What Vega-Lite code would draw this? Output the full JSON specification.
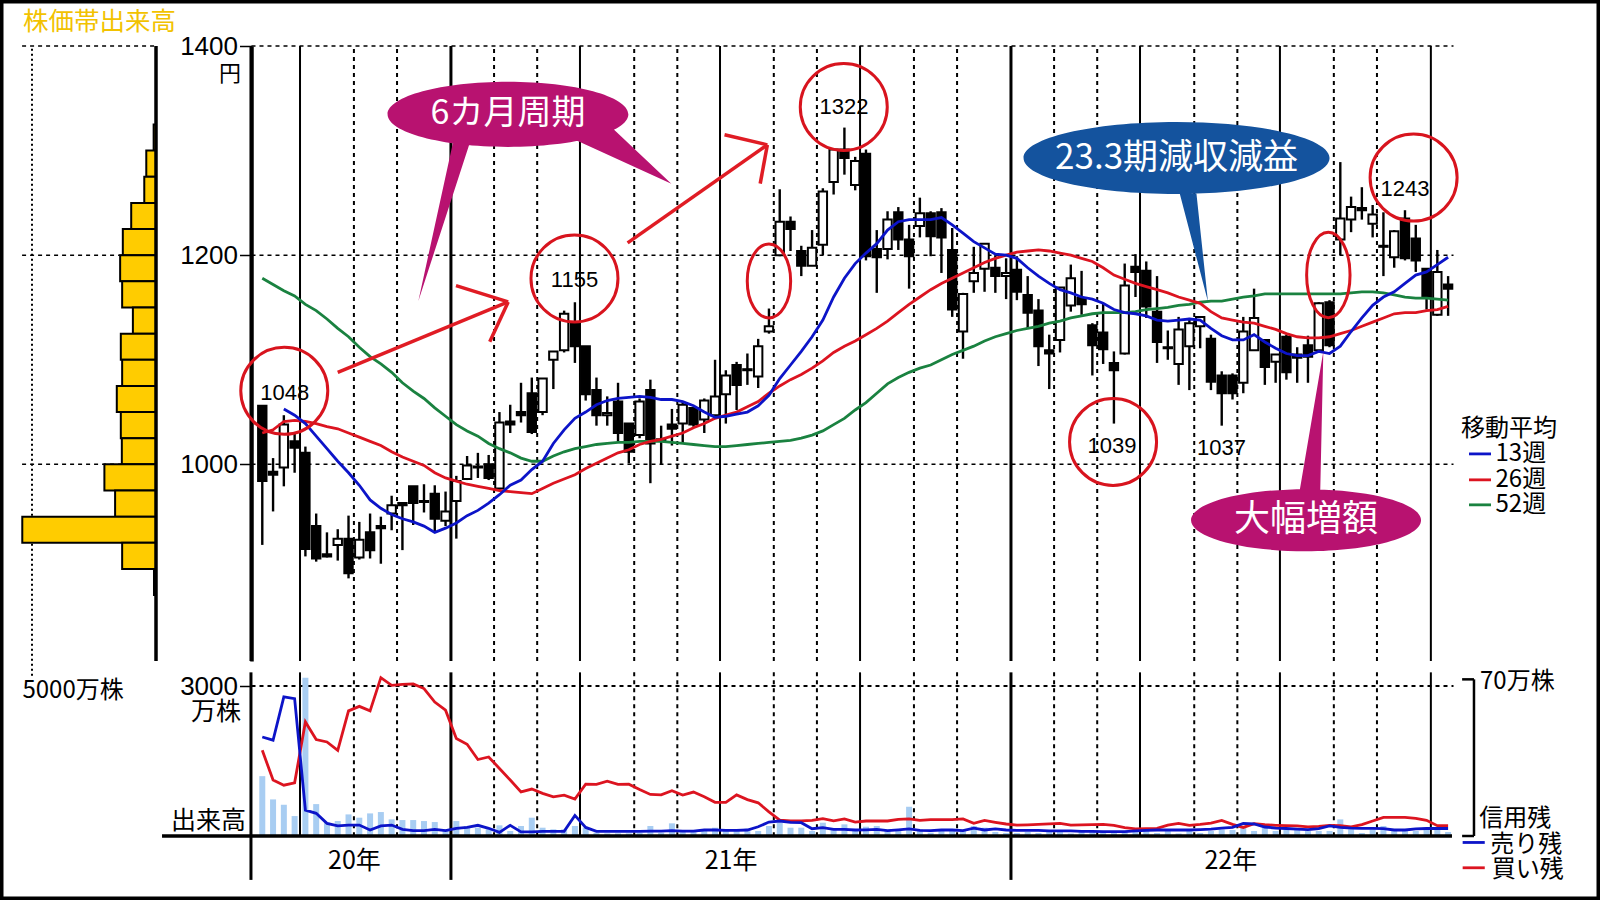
{
"$schema":"https://vega.github.io/schema/vega-lite/v6.json",
"width":1600,"height":900,"padding":0,"autosize":"none","background":"#ffffff",
"config":{"view":{"stroke":"#000000","strokeWidth":7},"axis":{"labelFont":"Liberation Sans","labelColor":"#000000","grid":false,"title":null}},
"datasets":{
"weekly":[
{"week":0,"open":1056,"high":1056,"low":923,"close":984,"ma13":null,"ma26":1030,"ma52":1178},
{"week":1,"open":993,"high":1006,"low":955,"close":990,"ma13":null,"ma26":1033,"ma52":1172},
{"week":2,"open":997,"high":1047,"low":979,"close":1038,"ma13":1053,"ma26":1041,"ma52":1166},
{"week":3,"open":1022,"high":1030,"low":992,"close":1016,"ma13":1047,"ma26":1042,"ma52":1161},
{"week":4,"open":1011,"high":1017,"low":912,"close":919,"ma13":1039,"ma26":1041,"ma52":1153},
{"week":5,"open":941,"high":953,"low":907,"close":910,"ma13":1027,"ma26":1039,"ma52":1147},
{"week":6,"open":914,"high":935,"low":911,"close":912,"ma13":1015,"ma26":1036,"ma52":1139},
{"week":7,"open":923,"high":938,"low":908,"close":929,"ma13":1003,"ma26":1034,"ma52":1130},
{"week":8,"open":929,"high":951,"low":891,"close":896,"ma13":992,"ma26":1030,"ma52":1122},
{"week":9,"open":911,"high":945,"low":909,"close":928,"ma13":980,"ma26":1026,"ma52":1112},
{"week":10,"open":935,"high":953,"low":910,"close":918,"ma13":966,"ma26":1022,"ma52":1103},
{"week":11,"open":941,"high":950,"low":905,"close":939,"ma13":958,"ma26":1018,"ma52":1096},
{"week":12,"open":953,"high":970,"low":937,"close":961,"ma13":952,"ma26":1012,"ma52":1088},
{"week":13,"open":963,"high":963,"low":918,"close":961,"ma13":948,"ma26":1007,"ma52":1078},
{"week":14,"open":979,"high":979,"low":942,"close":963,"ma13":945,"ma26":1003,"ma52":1070},
{"week":15,"open":965,"high":981,"low":954,"close":964,"ma13":941,"ma26":999,"ma52":1063},
{"week":16,"open":972,"high":980,"low":936,"close":948,"ma13":935,"ma26":992,"ma52":1054},
{"week":17,"open":946,"high":974,"low":941,"close":955,"ma13":939,"ma26":987,"ma52":1046},
{"week":18,"open":965,"high":989,"low":929,"close":984,"ma13":944,"ma26":984,"ma52":1038},
{"week":19,"open":986,"high":1008,"low":985,"close":999,"ma13":951,"ma26":981,"ma52":1032},
{"week":20,"open":998,"high":1011,"low":987,"close":997,"ma13":956,"ma26":979,"ma52":1027},
{"week":21,"open":1000,"high":1009,"low":985,"close":987,"ma13":963,"ma26":977,"ma52":1020},
{"week":22,"open":977,"high":1050,"low":975,"close":1040,"ma13":971,"ma26":975,"ma52":1015},
{"week":23,"open":1041,"high":1057,"low":1030,"close":1038,"ma13":980,"ma26":974,"ma52":1011},
{"week":24,"open":1050,"high":1078,"low":1040,"close":1047,"ma13":985,"ma26":973,"ma52":1006},
{"week":25,"open":1068,"high":1083,"low":1029,"close":1031,"ma13":995,"ma26":972,"ma52":1003},
{"week":26,"open":1050,"high":1082,"low":1047,"close":1082,"ma13":1003,"ma26":977,"ma52":1003},
{"week":27,"open":1100,"high":1108,"low":1072,"close":1108,"ma13":1020,"ma26":982,"ma52":1008},
{"week":28,"open":1109,"high":1147,"low":1107,"close":1144,"ma13":1033,"ma26":986,"ma52":1012},
{"week":29,"open":1136,"high":1155,"low":1097,"close":1113,"ma13":1044,"ma26":990,"ma52":1015},
{"week":30,"open":1113,"high":1113,"low":1061,"close":1067,"ma13":1050,"ma26":996,"ma52":1017},
{"week":31,"open":1071,"high":1083,"low":1037,"close":1047,"ma13":1057,"ma26":1001,"ma52":1019},
{"week":32,"open":1047,"high":1065,"low":1037,"close":1049,"ma13":1061,"ma26":1006,"ma52":1020},
{"week":33,"open":1060,"high":1078,"low":1022,"close":1030,"ma13":1063,"ma26":1011,"ma52":1021},
{"week":34,"open":1039,"high":1039,"low":1001,"close":1012,"ma13":1064,"ma26":1014,"ma52":1021},
{"week":35,"open":1028,"high":1063,"low":1025,"close":1060,"ma13":1065,"ma26":1019,"ma52":1022},
{"week":36,"open":1071,"high":1081,"low":982,"close":1020,"ma13":1064,"ma26":1022,"ma52":1022},
{"week":37,"open":1024,"high":1037,"low":1000,"close":1023,"ma13":1062,"ma26":1024,"ma52":1022},
{"week":38,"open":1038,"high":1053,"low":1018,"close":1034,"ma13":1062,"ma26":1027,"ma52":1021},
{"week":39,"open":1039,"high":1060,"low":1020,"close":1057,"ma13":1060,"ma26":1030,"ma52":1020},
{"week":40,"open":1054,"high":1054,"low":1036,"close":1038,"ma13":1056,"ma26":1035,"ma52":1019},
{"week":41,"open":1043,"high":1063,"low":1030,"close":1061,"ma13":1050,"ma26":1039,"ma52":1018},
{"week":42,"open":1047,"high":1100,"low":1046,"close":1065,"ma13":1045,"ma26":1044,"ma52":1017},
{"week":43,"open":1067,"high":1090,"low":1039,"close":1085,"ma13":1046,"ma26":1047,"ma52":1017},
{"week":44,"open":1095,"high":1098,"low":1052,"close":1076,"ma13":1048,"ma26":1050,"ma52":1018},
{"week":45,"open":1091,"high":1106,"low":1076,"close":1090,"ma13":1050,"ma26":1055,"ma52":1019},
{"week":46,"open":1084,"high":1120,"low":1073,"close":1113,"ma13":1056,"ma26":1060,"ma52":1020},
{"week":47,"open":1127,"high":1149,"low":1125,"close":1132,"ma13":1066,"ma26":1068,"ma52":1021},
{"week":48,"open":1200,"high":1263,"low":1199,"close":1232,"ma13":1082,"ma26":1075,"ma52":1022},
{"week":49,"open":1232,"high":1237,"low":1204,"close":1225,"ma13":1095,"ma26":1081,"ma52":1023},
{"week":50,"open":1204,"high":1209,"low":1180,"close":1190,"ma13":1108,"ma26":1086,"ma52":1025},
{"week":51,"open":1190,"high":1224,"low":1190,"close":1207,"ma13":1122,"ma26":1092,"ma52":1028},
{"week":52,"open":1210,"high":1264,"low":1200,"close":1261,"ma13":1138,"ma26":1099,"ma52":1032},
{"week":53,"open":1270,"high":1301,"low":1258,"close":1301,"ma13":1160,"ma26":1107,"ma52":1038},
{"week":54,"open":1301,"high":1322,"low":1277,"close":1293,"ma13":1178,"ma26":1113,"ma52":1044},
{"week":55,"open":1267,"high":1294,"low":1262,"close":1290,"ma13":1192,"ma26":1118,"ma52":1052},
{"week":56,"open":1297,"high":1301,"low":1195,"close":1199,"ma13":1202,"ma26":1124,"ma52":1059},
{"week":57,"open":1206,"high":1224,"low":1164,"close":1198,"ma13":1211,"ma26":1130,"ma52":1068},
{"week":58,"open":1206,"high":1242,"low":1196,"close":1234,"ma13":1224,"ma26":1137,"ma52":1077},
{"week":59,"open":1241,"high":1246,"low":1205,"close":1215,"ma13":1232,"ma26":1145,"ma52":1083},
{"week":60,"open":1215,"high":1229,"low":1168,"close":1199,"ma13":1234,"ma26":1153,"ma52":1088},
{"week":61,"open":1228,"high":1255,"low":1217,"close":1240,"ma13":1234,"ma26":1160,"ma52":1092},
{"week":62,"open":1240,"high":1242,"low":1199,"close":1218,"ma13":1234,"ma26":1167,"ma52":1095},
{"week":63,"open":1241,"high":1245,"low":1183,"close":1217,"ma13":1236,"ma26":1173,"ma52":1100},
{"week":64,"open":1205,"high":1226,"low":1141,"close":1148,"ma13":1229,"ma26":1178,"ma52":1105},
{"week":65,"open":1127,"high":1164,"low":1101,"close":1163,"ma13":1221,"ma26":1183,"ma52":1109},
{"week":66,"open":1175,"high":1208,"low":1164,"close":1183,"ma13":1213,"ma26":1188,"ma52":1113},
{"week":67,"open":1187,"high":1211,"low":1165,"close":1211,"ma13":1207,"ma26":1193,"ma52":1118},
{"week":68,"open":1188,"high":1200,"low":1164,"close":1180,"ma13":1201,"ma26":1197,"ma52":1122},
{"week":69,"open":1180,"high":1197,"low":1158,"close":1183,"ma13":1200,"ma26":1200,"ma52":1125},
{"week":70,"open":1186,"high":1199,"low":1157,"close":1165,"ma13":1197,"ma26":1203,"ma52":1128},
{"week":71,"open":1162,"high":1180,"low":1130,"close":1145,"ma13":1188,"ma26":1204,"ma52":1130},
{"week":72,"open":1147,"high":1158,"low":1094,"close":1113,"ma13":1180,"ma26":1205,"ma52":1132},
{"week":73,"open":1109,"high":1124,"low":1072,"close":1106,"ma13":1173,"ma26":1204,"ma52":1135},
{"week":74,"open":1119,"high":1169,"low":1107,"close":1169,"ma13":1167,"ma26":1202,"ma52":1137},
{"week":75,"open":1152,"high":1191,"low":1146,"close":1178,"ma13":1164,"ma26":1200,"ma52":1140},
{"week":76,"open":1159,"high":1185,"low":1143,"close":1153,"ma13":1160,"ma26":1197,"ma52":1142},
{"week":77,"open":1133,"high":1135,"low":1085,"close":1114,"ma13":1158,"ma26":1194,"ma52":1144},
{"week":78,"open":1126,"high":1154,"low":1096,"close":1110,"ma13":1154,"ma26":1188,"ma52":1145},
{"week":79,"open":1097,"high":1108,"low":1039,"close":1090,"ma13":1148,"ma26":1181,"ma52":1145},
{"week":80,"open":1106,"high":1192,"low":1105,"close":1171,"ma13":1145,"ma26":1177,"ma52":1145},
{"week":81,"open":1189,"high":1201,"low":1160,"close":1184,"ma13":1144,"ma26":1173,"ma52":1146},
{"week":82,"open":1185,"high":1194,"low":1140,"close":1151,"ma13":1142,"ma26":1170,"ma52":1148},
{"week":83,"open":1146,"high":1180,"low":1097,"close":1117,"ma13":1138,"ma26":1167,"ma52":1149},
{"week":84,"open":1112,"high":1128,"low":1100,"close":1111,"ma13":1137,"ma26":1164,"ma52":1150},
{"week":85,"open":1096,"high":1141,"low":1076,"close":1129,"ma13":1138,"ma26":1160,"ma52":1152},
{"week":86,"open":1113,"high":1140,"low":1071,"close":1135,"ma13":1139,"ma26":1157,"ma52":1153},
{"week":87,"open":1132,"high":1141,"low":1111,"close":1141,"ma13":1138,"ma26":1154,"ma52":1155},
{"week":88,"open":1120,"high":1124,"low":1071,"close":1079,"ma13":1130,"ma26":1146,"ma52":1156},
{"week":89,"open":1085,"high":1089,"low":1037,"close":1068,"ma13":1123,"ma26":1140,"ma52":1156},
{"week":90,"open":1085,"high":1087,"low":1062,"close":1068,"ma13":1119,"ma26":1138,"ma52":1158},
{"week":91,"open":1078,"high":1141,"low":1068,"close":1127,"ma13":1119,"ma26":1136,"ma52":1160},
{"week":92,"open":1109,"high":1168,"low":1109,"close":1140,"ma13":1124,"ma26":1135,"ma52":1161},
{"week":93,"open":1119,"high":1119,"low":1076,"close":1093,"ma13":1117,"ma26":1132,"ma52":1163},
{"week":94,"open":1098,"high":1105,"low":1078,"close":1105,"ma13":1111,"ma26":1129,"ma52":1163},
{"week":95,"open":1122,"high":1124,"low":1081,"close":1088,"ma13":1106,"ma26":1125,"ma52":1163},
{"week":96,"open":1105,"high":1112,"low":1078,"close":1102,"ma13":1104,"ma26":1122,"ma52":1163},
{"week":97,"open":1114,"high":1123,"low":1078,"close":1103,"ma13":1104,"ma26":1121,"ma52":1163},
{"week":98,"open":1109,"high":1155,"low":1108,"close":1154,"ma13":1108,"ma26":1121,"ma52":1163},
{"week":99,"open":1155,"high":1157,"low":1112,"close":1114,"ma13":1106,"ma26":1122,"ma52":1163},
{"week":100,"open":1215,"high":1289,"low":1200,"close":1235,"ma13":1113,"ma26":1125,"ma52":1163},
{"week":101,"open":1234,"high":1256,"low":1222,"close":1246,"ma13":1127,"ma26":1128,"ma52":1164},
{"week":102,"open":1245,"high":1265,"low":1234,"close":1243,"ma13":1140,"ma26":1132,"ma52":1165},
{"week":103,"open":1230,"high":1248,"low":1217,"close":1239,"ma13":1152,"ma26":1136,"ma52":1165},
{"week":104,"open":1209,"high":1241,"low":1180,"close":1208,"ma13":1160,"ma26":1140,"ma52":1164},
{"week":105,"open":1198,"high":1224,"low":1188,"close":1223,"ma13":1165,"ma26":1144,"ma52":1162},
{"week":106,"open":1235,"high":1243,"low":1195,"close":1197,"ma13":1173,"ma26":1145,"ma52":1160},
{"week":107,"open":1216,"high":1229,"low":1184,"close":1195,"ma13":1181,"ma26":1145,"ma52":1159},
{"week":108,"open":1187,"high":1187,"low":1148,"close":1160,"ma13":1184,"ma26":1147,"ma52":1159},
{"week":109,"open":1143,"high":1205,"low":1142,"close":1184,"ma13":1191,"ma26":1148,"ma52":1158},
{"week":110,"open":1172,"high":1180,"low":1142,"close":1168,"ma13":1198,"ma26":1151,"ma52":1157}
],
"turnover":[
{"week":0,"volume":1197,"sell":46.2,"buy":40},{"week":1,"volume":732,"sell":44.7,"buy":26.1},{"week":2,"volume":625,"sell":64.9,"buy":23.7},{"week":3,"volume":399,"sell":64.1,"buy":24.8},{"week":4,"volume":3166,"sell":12.1,"buy":53.2},{"week":5,"volume":638,"sell":10.6,"buy":45},{"week":6,"volume":266,"sell":5.9,"buy":43.9},{"week":7,"volume":300,"sell":4.7,"buy":40},{"week":8,"volume":432,"sell":5.1,"buy":58.4},{"week":9,"volume":366,"sell":5.1,"buy":60.5},
{"week":10,"volume":452,"sell":2.8,"buy":58.4},{"week":11,"volume":479,"sell":4.7,"buy":73.9},{"week":12,"volume":333,"sell":5.1,"buy":70.3},{"week":13,"volume":319,"sell":3.1,"buy":70.8},{"week":14,"volume":319,"sell":2.5,"buy":71},{"week":15,"volume":299,"sell":2.5,"buy":68.8},{"week":16,"volume":279,"sell":3.1,"buy":62.5},{"week":17,"volume":133,"sell":2.5,"buy":58.7},{"week":18,"volume":299,"sell":3.6,"buy":45.5},{"week":19,"volume":200,"sell":4,"buy":42.8},
{"week":20,"volume":166,"sell":5,"buy":35.7},{"week":21,"volume":133,"sell":3.6,"buy":36.9},{"week":22,"volume":213,"sell":1.7,"buy":31.5},{"week":23,"volume":100,"sell":5,"buy":26.1},{"week":24,"volume":200,"sell":1.9,"buy":20.6},{"week":25,"volume":366,"sell":1.9,"buy":21.9},{"week":26,"volume":166,"sell":2.2,"buy":19.9},{"week":27,"volume":133,"sell":2.2,"buy":18.3},{"week":28,"volume":133,"sell":2.2,"buy":19.1},{"week":29,"volume":200,"sell":9.6,"buy":17.2},
{"week":30,"volume":166,"sell":4,"buy":24.2},{"week":31,"volume":66,"sell":2.2,"buy":24.1},{"week":32,"volume":53,"sell":2.2,"buy":25.6},{"week":33,"volume":53,"sell":2.2,"buy":24.1},{"week":34,"volume":53,"sell":2.2,"buy":24.2},{"week":35,"volume":60,"sell":2.2,"buy":21.7},{"week":36,"volume":200,"sell":2.3,"buy":19.4},{"week":37,"volume":66,"sell":2.3,"buy":19.2},{"week":38,"volume":253,"sell":2.5,"buy":21.1},{"week":39,"volume":100,"sell":2.3,"buy":19.1},
{"week":40,"volume":80,"sell":2.3,"buy":20.5},{"week":41,"volume":133,"sell":2.8,"buy":18.3},{"week":42,"volume":166,"sell":2.8,"buy":15.7},{"week":43,"volume":120,"sell":2.6,"buy":15.7},{"week":44,"volume":133,"sell":2.6,"buy":19.2},{"week":45,"volume":146,"sell":2.8,"buy":17},{"week":46,"volume":100,"sell":4.3,"buy":15.5},{"week":47,"volume":200,"sell":6.5,"buy":11.3},{"week":48,"volume":266,"sell":7,"buy":7.4},{"week":49,"volume":166,"sell":6.4,"buy":7.1},
{"week":50,"volume":166,"sell":6.2,"buy":7.1},{"week":51,"volume":100,"sell":3.4,"buy":7.3},{"week":52,"volume":266,"sell":3.9,"buy":8.1},{"week":53,"volume":133,"sell":3.1,"buy":7.1},{"week":54,"volume":233,"sell":3.1,"buy":8},{"week":55,"volume":100,"sell":2.8,"buy":6.5},{"week":56,"volume":186,"sell":2.9,"buy":7},{"week":57,"volume":200,"sell":3.1,"buy":7.1},{"week":58,"volume":100,"sell":2.5,"buy":7},{"week":59,"volume":100,"sell":2.9,"buy":7.8},
{"week":60,"volume":585,"sell":3.3,"buy":8},{"week":61,"volume":133,"sell":2.6,"buy":7.3},{"week":62,"volume":66,"sell":2.5,"buy":7.6},{"week":63,"volume":100,"sell":2.8,"buy":7.6},{"week":64,"volume":133,"sell":2.8,"buy":7.6},{"week":65,"volume":100,"sell":2.5,"buy":8},{"week":66,"volume":200,"sell":3.7,"buy":5.9},{"week":67,"volume":166,"sell":2.8,"buy":7.3},{"week":68,"volume":80,"sell":3.3,"buy":6.4},{"week":69,"volume":60,"sell":2.8,"buy":5.6},
{"week":70,"volume":60,"sell":2.6,"buy":5.1},{"week":71,"volume":80,"sell":2.6,"buy":5.2},{"week":72,"volume":60,"sell":2.6,"buy":5.4},{"week":73,"volume":100,"sell":2.4,"buy":5.7},{"week":74,"volume":100,"sell":2.4,"buy":5.9},{"week":75,"volume":50,"sell":2.4,"buy":5.1},{"week":76,"volume":100,"sell":2.2,"buy":5.2},{"week":77,"volume":100,"sell":2.2,"buy":5.3},{"week":78,"volume":80,"sell":2,"buy":5.4},{"week":79,"volume":60,"sell":2,"buy":5},
{"week":80,"volume":100,"sell":2,"buy":3.9},{"week":81,"volume":130,"sell":2.4,"buy":3.3},{"week":82,"volume":100,"sell":2.6,"buy":3.4},{"week":83,"volume":60,"sell":2.8,"buy":3.6},{"week":84,"volume":100,"sell":2.8,"buy":5.1},{"week":85,"volume":50,"sell":2.8,"buy":5.9},{"week":86,"volume":100,"sell":2.8,"buy":5},{"week":87,"volume":60,"sell":3,"buy":5.4},{"week":88,"volume":100,"sell":3.2,"buy":6},{"week":89,"volume":130,"sell":3.7,"buy":7.3},
{"week":90,"volume":120,"sell":4,"buy":5.4},{"week":91,"volume":166,"sell":5.9,"buy":4},{"week":92,"volume":100,"sell":5.6,"buy":5.8},{"week":93,"volume":166,"sell":4.2,"buy":5.3},{"week":94,"volume":100,"sell":3.7,"buy":5},{"week":95,"volume":133,"sell":3.5,"buy":4.8},{"week":96,"volume":133,"sell":3.2,"buy":4.7},{"week":97,"volume":100,"sell":3,"buy":4.3},{"week":98,"volume":100,"sell":3.4,"buy":4.5},{"week":99,"volume":100,"sell":4.7,"buy":5},
{"week":100,"volume":332,"sell":4,"buy":4.8},{"week":101,"volume":133,"sell":3.7,"buy":4.3},{"week":102,"volume":60,"sell":3.6,"buy":5.3},{"week":103,"volume":133,"sell":3.6,"buy":7},{"week":104,"volume":200,"sell":3.4,"buy":8.7},{"week":105,"volume":130,"sell":2.8,"buy":8.7},{"week":106,"volume":130,"sell":2.8,"buy":8.7},{"week":107,"volume":100,"sell":3.3,"buy":8.2},{"week":108,"volume":130,"sell":3.5,"buy":7.3},{"week":109,"volume":130,"sell":3.5,"buy":4.8},{"week":110,"volume":80,"sell":3.5,"buy":4.8}
],
"priceBands":[
{"lo":1300,"hi":1325,"vol":95},{"lo":1275,"hi":1300,"vol":392},{"lo":1250,"hi":1275,"vol":473},{"lo":1225,"hi":1250,"vol":1000},{"lo":1200,"hi":1225,"vol":1338},{"lo":1175,"hi":1200,"vol":1446},{"lo":1150,"hi":1175,"vol":1365},{"lo":1125,"hi":1150,"vol":932},{"lo":1100,"hi":1125,"vol":1419},{"lo":1075,"hi":1100,"vol":1365},{"lo":1050,"hi":1075,"vol":1581},{"lo":1025,"hi":1050,"vol":1419},{"lo":1000,"hi":1025,"vol":1378},{"lo":975,"hi":1000,"vol":2081},{"lo":950,"hi":975,"vol":1649},{"lo":925,"hi":950,"vol":5392},{"lo":900,"hi":925,"vol":1365},{"lo":875,"hi":900,"vol":81}
],
"thickLines":[{"week":-1.05},{"week":17.5},{"week":69.45}],
"thinLines":[{"week":3.5},{"week":29.47},{"week":42.46},{"week":55.45},{"week":81.42},{"week":94.4},{"week":108.4}],
"dashLines":[{"week":8.5},{"week":12.5},{"week":21.5},{"week":25.5},{"week":34.5},{"week":38.5},{"week":47.45},{"week":51.45},{"week":60.45},{"week":64.45},{"week":73.45},{"week":77.45},{"week":86.45},{"week":90.45},{"week":99.4},{"week":103.4}],
"priceLevels":[{"price":1000},{"price":1200},{"price":1400}]
},
"resolve":{"scale":{"x":"independent","y":"independent"},"axis":{"x":"independent","y":"independent"}},
"layer":[
{"layer":[
{"data":{"name":"priceLevels"},"mark":{"type":"rule","stroke":"#000000","strokeWidth":1.5,"strokeDash":[4,4]},
 "encoding":{"x":{"datum":5400,"type":"quantitative","scale":{"domain":[0,5000],"range":[156,32]},"axis":null},"x2":{"datum":0},"y":{"field":"price","type":"quantitative","scale":{"domain":[812,1400],"range":[661,46]},"axis":null}}},
{"data":{"values":[{"level":5000}]},"mark":{"type":"rule","stroke":"#000000","strokeWidth":2,"strokeDash":[2,3]},
 "encoding":{"x":{"field":"level","type":"quantitative","scale":{"domain":[0,5000],"range":[156,32]},"axis":null},"y":{"datum":798,"type":"quantitative","scale":{"domain":[812,1400],"range":[661,46]},"axis":null},"y2":{"datum":1400}}},
{"data":{"name":"priceBands"},"mark":{"type":"rect","fill":"#ffcc00","stroke":"#000000","strokeWidth":2},
 "encoding":{"x":{"field":"vol","type":"quantitative","scale":{"domain":[0,5000],"range":[156,32]},"axis":null},"x2":{"datum":0},"y":{"field":"hi","type":"quantitative","scale":{"domain":[812,1400],"range":[661,46]},"axis":null},"y2":{"field":"lo"}}},
{"data":{"values":[{"level":0}]},"mark":{"type":"rule","stroke":"#000000","strokeWidth":3.5},
 "encoding":{"x":{"field":"level","type":"quantitative","scale":{"domain":[0,5000],"range":[156,32]},"axis":null},"y":{"datum":812,"type":"quantitative","scale":{"domain":[812,1400],"range":[661,46]},"axis":null},"y2":{"datum":1400}}}
]},
{"layer":[
{"data":{"name":"priceLevels"},"mark":{"type":"rule","stroke":"#000000","strokeWidth":1.5,"strokeDash":[4,4]},
 "encoding":{"x":{"datum":-1,"type":"quantitative","scale":{"domain":[-24.33,124.09],"range":[0,1600],"padding":0},"axis":null},"x2":{"datum":110.5},"y":{"field":"price","type":"quantitative","scale":{"domain":[812,1400],"range":[661,46]},"axis":{"orient":"left","offset":-251.5,"values":[1000,1200,1400],"format":"d","domainColor":"#000000","domainWidth":3.5,"tickColor":"#000000","tickWidth":1.5,"tickSize":12,"labelFontSize":26,"labelPadding":2,"labelBaseline":"middle","labelOverlap":false,"labelFlush":false}}}},
{"data":{"name":"dashLines"},"mark":{"type":"rule","stroke":"#000000","strokeWidth":2,"strokeDash":[4,4]},
 "encoding":{"x":{"field":"week","type":"quantitative","scale":{"domain":[-24.33,124.09],"range":[0,1600],"padding":0},"axis":null},"y":{"datum":812,"type":"quantitative","scale":{"domain":[812,1400],"range":[661,46]}},"y2":{"datum":1400}}},
{"data":{"name":"thinLines"},"mark":{"type":"rule","stroke":"#000000","strokeWidth":2},
 "encoding":{"x":{"field":"week","type":"quantitative","scale":{"domain":[-24.33,124.09],"range":[0,1600],"padding":0},"axis":null},"y":{"datum":812,"type":"quantitative","scale":{"domain":[812,1400],"range":[661,46]}},"y2":{"datum":1400}}},
{"data":{"name":"thickLines"},"mark":{"type":"rule","stroke":"#000000","strokeWidth":3},
 "encoding":{"x":{"field":"week","type":"quantitative","scale":{"domain":[-24.33,124.09],"range":[0,1600],"padding":0},"axis":null},"y":{"datum":812,"type":"quantitative","scale":{"domain":[812,1400],"range":[661,46]}},"y2":{"datum":1400}}},
{"data":{"name":"weekly"},"mark":{"type":"rule","stroke":"#000000","strokeWidth":2.4},
 "encoding":{"x":{"field":"week","type":"quantitative","scale":{"domain":[-24.33,124.09],"range":[0,1600],"padding":0},"axis":null},"y":{"field":"low","type":"quantitative","scale":{"domain":[812,1400],"range":[661,46]}},"y2":{"field":"high"}}},
{"data":{"name":"weekly"},"mark":{"type":"bar","size":8.4,"stroke":"#000000","strokeWidth":2},
 "encoding":{"x":{"field":"week","type":"quantitative","scale":{"domain":[-24.33,124.09],"range":[0,1600],"padding":0},"axis":null},"y":{"field":"open","type":"quantitative","scale":{"domain":[812,1400],"range":[661,46]}},"y2":{"field":"close"},"fill":{"condition":{"test":"datum.close>=datum.open","value":"#ffffff"},"value":"#000000"}}},
{"data":{"name":"weekly"},"mark":{"type":"line","stroke":"#1a8240","strokeWidth":2.8},
 "encoding":{"x":{"field":"week","type":"quantitative","scale":{"domain":[-24.33,124.09],"range":[0,1600],"padding":0},"axis":null},"y":{"field":"ma52","type":"quantitative","scale":{"domain":[812,1400],"range":[661,46]}}}},
{"data":{"name":"weekly"},"mark":{"type":"line","stroke":"#dc1420","strokeWidth":2.8},
 "encoding":{"x":{"field":"week","type":"quantitative","scale":{"domain":[-24.33,124.09],"range":[0,1600],"padding":0},"axis":null},"y":{"field":"ma26","type":"quantitative","scale":{"domain":[812,1400],"range":[661,46]}}}},
{"data":{"name":"weekly"},"mark":{"type":"line","stroke":"#0c14c8","strokeWidth":2.8},
 "encoding":{"x":{"field":"week","type":"quantitative","scale":{"domain":[-24.33,124.09],"range":[0,1600],"padding":0},"axis":null},"y":{"field":"ma13","type":"quantitative","scale":{"domain":[812,1400],"range":[661,46]}}}},
{"data":{"values":[{"week":2.04,"price":1070.3},{"week":28.96,"price":1177.7},{"week":53.94,"price":1341.7},{"week":78.92,"price":1021.5},{"week":106.8,"price":1274.2}]},"mark":{"type":"point","shape":"circle","size":7569,"stroke":"#d8141e","strokeWidth":3,"fill":null,"opacity":1},
 "encoding":{"x":{"field":"week","type":"quantitative","scale":{"domain":[-24.33,124.09],"range":[0,1600],"padding":0},"axis":null},"y":{"field":"price","type":"quantitative","scale":{"domain":[812,1400],"range":[661,46]}}}},
{"data":{"values":[{"week":47.0,"price":1175.4}]},"mark":{"type":"point","shape":"M-21.7 0A21.7 37 0 1 1 21.7 0A21.7 37 0 1 1 -21.7 0Z","size":4,"stroke":"#d8141e","strokeWidth":3,"fill":null,"opacity":1},
 "encoding":{"x":{"field":"week","type":"quantitative","scale":{"domain":[-24.33,124.09],"range":[0,1600],"padding":0},"axis":null},"y":{"field":"price","type":"quantitative","scale":{"domain":[812,1400],"range":[661,46]}}}},
{"data":{"values":[{"week":98.89,"price":1181.1}]},"mark":{"type":"point","shape":"M-21.7 0A21.7 42.7 0 1 1 21.7 0A21.7 42.7 0 1 1 -21.7 0Z","size":4,"stroke":"#d8141e","strokeWidth":3,"fill":null,"opacity":1},
 "encoding":{"x":{"field":"week","type":"quantitative","scale":{"domain":[-24.33,124.09],"range":[0,1600],"padding":0},"axis":null},"y":{"field":"price","type":"quantitative","scale":{"domain":[812,1400],"range":[661,46]}}}},
{"data":{"values":[{"from":7.0,"fromPrice":1088,"to":22.81,"toPrice":1155.3},{"from":17.97,"fromPrice":1170.9,"to":22.81,"toPrice":1155.3},{"from":21.1,"fromPrice":1117.3,"to":22.81,"toPrice":1155.3},{"from":33.89,"fromPrice":1211.8,"to":46.85,"toPrice":1305.5},{"from":42.88,"fromPrice":1315.2,"to":46.85,"toPrice":1305.5},{"from":46.19,"fromPrice":1268.4,"to":46.85,"toPrice":1305.5}]},"mark":{"type":"rule","stroke":"#e01c24","strokeWidth":3.5},
 "encoding":{"x":{"field":"from","type":"quantitative","scale":{"domain":[-24.33,124.09],"range":[0,1600],"padding":0},"axis":null},"x2":{"field":"to"},"y":{"field":"fromPrice","type":"quantitative","scale":{"domain":[812,1400],"range":[661,46]}},"y2":{"field":"toPrice"}}},
{"data":{"values":[{"week":22.79,"price":1334.7}]},"mark":{"type":"point","filled":true,"opacity":1,"fill":"#b81270","strokeWidth":0,"size":4,"shape":"M-120.4 0A120.4 32.6 0 1 1 120.4 0A120.4 32.6 0 1 1 -120.4 0ZM-36.6 23.7L-89.6 186.7L-54 23.7ZM95 5L163.4 69.4L55 20Z"},
 "encoding":{"x":{"field":"week","type":"quantitative","scale":{"domain":[-24.33,124.09],"range":[0,1600],"padding":0},"axis":null},"y":{"field":"price","type":"quantitative","scale":{"domain":[812,1400],"range":[661,46]}}}},
{"data":{"values":[{"week":84.81,"price":1293}]},"mark":{"type":"point","filled":true,"opacity":1,"fill":"#14539e","strokeWidth":0,"size":4,"shape":"M-153 0A153 36 0 1 1 153 0A153 36 0 1 1 -153 0ZM19.4 31L31.4 143.7L2 31Z"},
 "encoding":{"x":{"field":"week","type":"quantitative","scale":{"domain":[-24.33,124.09],"range":[0,1600],"padding":0},"axis":null},"y":{"field":"price","type":"quantitative","scale":{"domain":[812,1400],"range":[661,46]}}}},
{"data":{"values":[{"week":96.82,"price":946.6}]},"mark":{"type":"point","filled":true,"opacity":1,"fill":"#b81270","strokeWidth":0,"size":4,"shape":"M-115 0A115 31 0 1 1 115 0A115 31 0 1 1 -115 0ZM-8 -20L17.3 -168.7L14 -20Z"},
 "encoding":{"x":{"field":"week","type":"quantitative","scale":{"domain":[-24.33,124.09],"range":[0,1600],"padding":0},"axis":null},"y":{"field":"price","type":"quantitative","scale":{"domain":[812,1400],"range":[661,46]}}}},
{"data":{"values":[{"week":22.79,"price":1334.7,"label":"6カ月周期"}]},"mark":{"type":"text","font":"Noto Sans CJK JP","fontSize":34,"fill":"#ffffff","align":"center","baseline":"middle"},
 "encoding":{"x":{"field":"week","type":"quantitative","scale":{"domain":[-24.33,124.09],"range":[0,1600],"padding":0},"axis":null},"y":{"field":"price","type":"quantitative","scale":{"domain":[812,1400],"range":[661,46]}},"text":{"field":"label"}}},
{"data":{"values":[{"week":84.81,"price":1293,"label":"23.3期減収減益"}]},"mark":{"type":"text","font":"Noto Sans CJK JP","fontSize":35,"fill":"#ffffff","align":"center","baseline":"middle"},
 "encoding":{"x":{"field":"week","type":"quantitative","scale":{"domain":[-24.33,124.09],"range":[0,1600],"padding":0},"axis":null},"y":{"field":"price","type":"quantitative","scale":{"domain":[812,1400],"range":[661,46]}},"text":{"field":"label"}}},
{"data":{"values":[{"week":96.82,"price":946.6,"label":"大幅増額"}]},"mark":{"type":"text","font":"Noto Sans CJK JP","fontSize":36,"fill":"#ffffff","align":"center","baseline":"middle"},
 "encoding":{"x":{"field":"week","type":"quantitative","scale":{"domain":[-24.33,124.09],"range":[0,1600],"padding":0},"axis":null},"y":{"field":"price","type":"quantitative","scale":{"domain":[812,1400],"range":[661,46]}},"text":{"field":"label"}}},
{"data":{"values":[{"week":2.08,"price":1068.3,"label":"1048"},{"week":28.96,"price":1175.8,"label":"1155"},{"week":53.96,"price":1341.7,"label":"1322"},{"week":106.0,"price":1263.3,"label":"1243"},{"week":78.82,"price":1017.7,"label":"1039"},{"week":88.98,"price":1015.8,"label":"1037"}]},"mark":{"type":"text","font":"Liberation Sans","fontSize":22,"fill":"#000000","align":"center","baseline":"middle"},
 "encoding":{"x":{"field":"week","type":"quantitative","scale":{"domain":[-24.33,124.09],"range":[0,1600],"padding":0},"axis":null},"y":{"field":"price","type":"quantitative","scale":{"domain":[812,1400],"range":[661,46]}},"text":{"field":"label"}}},
{"data":{"values":[{"week":-22.25,"price":783.5,"label":"5000万株"},{"week":111.2,"price":1033.4,"label":"移動平均"},{"week":114.4,"price":1010,"label":"13週"},{"week":114.4,"price":985.2,"label":"26週"},{"week":114.4,"price":961.3,"label":"52週"},{"week":112.96,"price":792.1,"label":"70万株"},{"week":112.9,"price":661.2,"label":"信用残"},{"week":113.9,"price":636.3,"label":"売り残"},{"week":114.04,"price":612.4,"label":"買い残"}]},"mark":{"type":"text","font":"Noto Sans CJK JP","fontSize":24,"fill":"#000000","align":"left","baseline":"middle"},
 "encoding":{"x":{"field":"week","type":"quantitative","scale":{"domain":[-24.33,124.09],"range":[0,1600],"padding":0},"axis":null},"y":{"field":"price","type":"quantitative","scale":{"domain":[812,1400],"range":[661,46]}},"text":{"field":"label"}}},
{"data":{"values":[{"week":-1.98,"price":763.4,"label":"万株"},{"week":-1.5,"price":659.3,"label":"出来高"}]},"mark":{"type":"text","font":"Noto Sans CJK JP","fontSize":25,"fill":"#000000","align":"right","baseline":"middle"},
 "encoding":{"x":{"field":"week","type":"quantitative","scale":{"domain":[-24.33,124.09],"range":[0,1600],"padding":0},"axis":null},"y":{"field":"price","type":"quantitative","scale":{"domain":[812,1400],"range":[661,46]}},"text":{"field":"label"}}},
{"data":{"values":[{"week":-1.98,"price":1372.8,"label":"円"}]},"mark":{"type":"text","font":"Noto Sans CJK JP","fontSize":22,"fill":"#000000","align":"right","baseline":"middle"},
 "encoding":{"x":{"field":"week","type":"quantitative","scale":{"domain":[-24.33,124.09],"range":[0,1600],"padding":0},"axis":null},"y":{"field":"price","type":"quantitative","scale":{"domain":[812,1400],"range":[661,46]}},"text":{"field":"label"}}},
{"data":{"values":[{"week":-22.2,"price":1422.9,"label":"株価帯出来高"}]},"mark":{"type":"text","font":"Noto Sans CJK JP","fontSize":25.5,"fill":"#f2c200","align":"left","baseline":"middle"},
 "encoding":{"x":{"field":"week","type":"quantitative","scale":{"domain":[-24.33,124.09],"range":[0,1600],"padding":0},"axis":null},"y":{"field":"price","type":"quantitative","scale":{"domain":[812,1400],"range":[661,46]}},"text":{"field":"label"}}},
{"data":{"values":[{"from":111.94,"to":113.98,"price":1010,"series":"13週"},{"from":111.94,"to":113.98,"price":985.2,"series":"26週"},{"from":111.94,"to":113.98,"price":961.3,"series":"52週"},{"from":111.35,"to":113.4,"price":638.5,"series":"売り残"},{"from":111.35,"to":113.4,"price":614.3,"series":"買い残"}]},"mark":{"type":"rule","strokeWidth":2.8},
 "encoding":{"x":{"field":"from","type":"quantitative","scale":{"domain":[-24.33,124.09],"range":[0,1600],"padding":0},"axis":null},"x2":{"field":"to"},"y":{"field":"price","type":"quantitative","scale":{"domain":[812,1400],"range":[661,46]}},"color":{"field":"series","type":"nominal","legend":null,"scale":{"domain":["13週","26週","52週","売り残","買い残"],"range":["#0c14c8","#dc1420","#1a8240","#0c14c8","#dc1420"]}}}}
]},
{"layer":[
{"data":{"values":[{"level":3000}]},"mark":{"type":"rule","stroke":"#000000","strokeWidth":2,"strokeDash":[4,4]},
 "encoding":{"x":{"datum":-1,"type":"quantitative","scale":{"domain":[-24.33,124.09],"range":[0,1600],"padding":0},"axis":{"orient":"bottom","offset":-64,"values":[8.5,43.44,89.8],"labelExpr":"datum.value<20?'20年':datum.value<60?'21年':'22年'","domain":false,"ticks":false,"labelFont":"Noto Sans CJK JP","labelFontSize":25,"labelPadding":12,"labelOverlap":false,"labelFlush":false}},"x2":{"datum":110.5},"y":{"field":"level","type":"quantitative","scale":{"domain":[0,3000],"range":[836,686]},"axis":{"orient":"left","offset":-251.5,"values":[3000],"format":"d","domain":false,"tickColor":"#000000","tickWidth":1.5,"tickSize":12,"labelFontSize":26,"labelPadding":2,"labelBaseline":"middle","labelOverlap":false,"labelFlush":false}}}},
{"data":{"name":"dashLines"},"mark":{"type":"rule","stroke":"#000000","strokeWidth":2,"strokeDash":[4,4]},
 "encoding":{"x":{"field":"week","type":"quantitative","scale":{"domain":[-24.33,124.09],"range":[0,1600],"padding":0}},"y":{"datum":3273,"type":"quantitative","scale":{"domain":[0,3000],"range":[836,686]}},"y2":{"datum":0}}},
{"data":{"name":"thinLines"},"mark":{"type":"rule","stroke":"#000000","strokeWidth":2},
 "encoding":{"x":{"field":"week","type":"quantitative","scale":{"domain":[-24.33,124.09],"range":[0,1600],"padding":0}},"y":{"datum":3273,"type":"quantitative","scale":{"domain":[0,3000],"range":[836,686]}},"y2":{"datum":0}}},
{"data":{"name":"thickLines"},"mark":{"type":"rule","stroke":"#000000","strokeWidth":3},
 "encoding":{"x":{"field":"week","type":"quantitative","scale":{"domain":[-24.33,124.09],"range":[0,1600],"padding":0}},"y":{"datum":3273,"type":"quantitative","scale":{"domain":[0,3000],"range":[836,686]}},"y2":{"datum":-878}}},
{"data":{"name":"turnover"},"mark":{"type":"bar","size":6,"fill":"#a8cdf2"},
 "encoding":{"x":{"field":"week","type":"quantitative","scale":{"domain":[-24.33,124.09],"range":[0,1600],"padding":0}},"y":{"field":"volume","type":"quantitative","scale":{"domain":[0,3000],"range":[836,686]}},"y2":{"datum":0}}},
{"data":{"values":[{"level":0}]},"mark":{"type":"rule","stroke":"#000000","strokeWidth":3.5},
 "encoding":{"x":{"datum":-9.3,"type":"quantitative","scale":{"domain":[-24.33,124.09],"range":[0,1600],"padding":0}},"x2":{"datum":110.36},"y":{"field":"level","type":"quantitative","scale":{"domain":[0,3000],"range":[836,686]}}}}
]},
{"layer":[
{"data":{"name":"turnover"},"mark":{"type":"line","stroke":"#dc1420","strokeWidth":2.8},
 "encoding":{"x":{"field":"week","type":"quantitative","scale":{"domain":[-24.33,124.09],"range":[0,1600],"padding":0},"axis":null},"y":{"field":"buy","type":"quantitative","scale":{"domain":[0,70],"range":[836,686]},"axis":null}}},
{"data":{"name":"turnover"},"mark":{"type":"line","stroke":"#0c14c8","strokeWidth":2.8},
 "encoding":{"x":{"field":"week","type":"quantitative","scale":{"domain":[-24.33,124.09],"range":[0,1600],"padding":0},"axis":null},"y":{"field":"sell","type":"quantitative","scale":{"domain":[0,70],"range":[836,686]},"axis":null}}},
{"data":{"values":[{"from":111.3,"to":112.4,"low":73.1,"high":73.1},{"from":111.3,"to":112.4,"low":0,"high":0},{"from":112.4,"to":112.4,"low":0,"high":73.1}]},"mark":{"type":"rule","stroke":"#000000","strokeWidth":2.5},
 "encoding":{"x":{"field":"from","type":"quantitative","scale":{"domain":[-24.33,124.09],"range":[0,1600],"padding":0},"axis":null},"x2":{"field":"to"},"y":{"field":"low","type":"quantitative","scale":{"domain":[0,70],"range":[836,686]},"axis":null},"y2":{"field":"high"}}}
]}
]
}
